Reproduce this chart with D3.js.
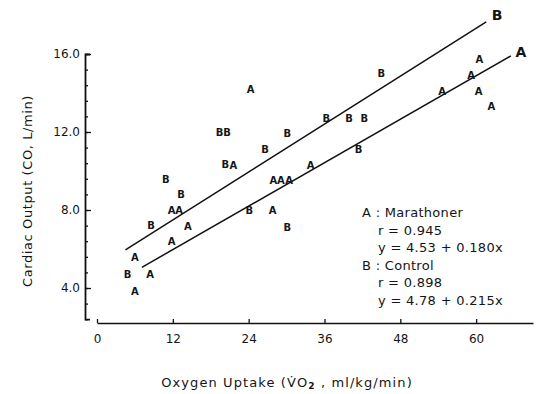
<!DOCTYPE html>
<html>
<head>
<meta charset="utf-8">
<script src="https://cdn.jsdelivr.net/npm/d3@7"></script>
<style>
  html, body { margin: 0; padding: 0; background: #fff; }
  svg { display: block; }
  text { font-family: "DejaVu Sans", sans-serif; fill: #151515; }
</style>
</head>
<body>
<svg id="chart" width="539" height="394"></svg>
<script>
// ---- Data ----
const xTicks = [0, 12, 24, 36, 48, 60];
const yTicks = [4, 8, 12, 16];

// Marathoner (A) points: [VO2, CO]
const seriesA = [
  [24.3, 14.2], [21.6, 10.3], [54.6, 14.1], [60.5, 15.7], [59.2, 14.9],
  [60.4, 14.1], [62.4, 13.3], [33.8, 10.3], [27.9, 9.5], [29.1, 9.5],
  [30.4, 9.5], [27.8, 7.95], [11.8, 7.95], [13.0, 7.95], [14.4, 7.15],
  [11.8, 6.4], [6.0, 5.55], [8.4, 4.7], [6.0, 3.8]
];
// Control (B) points: [VO2, CO]
const seriesB = [
  [19.4, 12.0], [20.6, 12.0], [30.1, 11.9], [26.6, 11.1], [20.3, 10.35],
  [36.3, 12.7], [39.9, 12.7], [42.3, 12.7], [45.0, 15.0], [41.4, 11.1],
  [24.1, 7.95], [30.1, 7.1], [10.9, 9.55], [13.3, 8.8], [8.55, 7.2],
  [4.85, 4.7]
];
// Regression lines as drawn (endpoints)
const lineA = [[7.1, 5.06], [65.5, 15.9]];
const lineB = [[4.5, 5.95], [61.6, 17.65]];
const lineLabels = [["A", 67.1, 16.1], ["B", 63.3, 18.0]];

const legendLines = [
  ["A : Marathoner", 0],
  ["r = 0.945", 1],
  ["y = 4.53 + 0.180x", 1],
  ["B : Control", 0],
  ["r = 0.898", 1],
  ["y = 4.78 + 0.215x", 1]
];

// ---- Scales ----
const svg = d3.select("#chart");
svg.append("rect").attr("width", 539).attr("height", 394).attr("fill", "#fff");

const x = d3.scaleLinear().domain([0, 69]).range([97, 533]);
const y = d3.scaleLinear().domain([2.4, 16]).range([319.2, 54]);

// ---- Y axis ----
const minorY = d3.range(3, 21).map(i => +(i * 0.8).toFixed(1));
const gyMinor = svg.append("g").attr("transform", "translate(85,0)")
  .call(d3.axisLeft(y).tickValues(minorY).tickSize(-3).tickFormat(""));
gyMinor.select(".domain").remove();
const gy = svg.append("g").attr("transform", "translate(85,0)")
  .call(d3.axisLeft(y).tickValues(yTicks).tickSize(-6).tickSizeOuter(-5)
        .tickPadding(5).tickFormat(d3.format(".1f")));
svg.selectAll("g .domain").attr("stroke", "#111").attr("stroke-width", 1.8);
svg.selectAll("g .tick line").attr("stroke", "#111").attr("stroke-width", 1.3);
gy.selectAll("text").style("font-size", "12px").style("font-family", "DejaVu Sans").attr("fill", "#151515");

// ---- X axis ----
const gx = svg.append("g").attr("transform", "translate(0,323)")
  .call(d3.axisBottom(x).tickValues(xTicks).tickSize(-4).tickSizeOuter(0)
        .tickPadding(11).tickFormat(d3.format("d")));
gx.select(".domain").attr("stroke", "#111").attr("stroke-width", 1.6);
gx.selectAll(".tick line").attr("stroke", "#111").attr("stroke-width", 1.3);
gx.selectAll("text").style("font-size", "12px").style("font-family", "DejaVu Sans").attr("fill", "#151515");

// ---- Axis titles ----
svg.append("text")
  .attr("transform", "translate(32,191) rotate(-90)")
  .attr("text-anchor", "middle")
  .style("font-size", "13px")
  .style("letter-spacing", "0.6px")
  .text("Cardiac Output (CO, L/min)");

const xt = svg.append("text")
  .attr("x", 287).attr("y", 387)
  .attr("text-anchor", "middle")
  .style("font-size", "13px")
  .style("letter-spacing", "1.1px");
xt.append("tspan").text("Oxygen Uptake (V\u0307O");
xt.append("tspan").attr("dy", 2).style("font-size", "9px").style("font-weight", "bold").text("2");
xt.append("tspan").attr("dy", -2).text(" , ml/kg/min)");

// ---- Regression lines ----
const line = d3.line().x(d => x(d[0])).y(d => y(d[1]));
[lineA, lineB].forEach(l => {
  svg.append("path").attr("d", line(l)).attr("fill", "none")
    .attr("stroke", "#111").attr("stroke-width", 1.5);
});
svg.selectAll("text.lineLabel").data(lineLabels).enter().append("text")
  .attr("class", "lineLabel")
  .attr("x", d => x(d[1])).attr("y", d => y(d[2]))
  .attr("text-anchor", "middle").attr("dominant-baseline", "central")
  .style("font-size", "14px").style("font-weight", "bold")
  .text(d => d[0]);

// ---- Points (letters) ----
function drawLetters(data, letter) {
  svg.append("g").selectAll("text").data(data).enter().append("text")
    .attr("x", d => x(d[0])).attr("y", d => y(d[1]))
    .attr("text-anchor", "middle").attr("dominant-baseline", "central")
    .style("font-size", "10px").style("font-weight", "bold")
    .text(letter);
}
drawLetters(seriesA, "A");
drawLetters(seriesB, "B");

// ---- Legend ----
svg.append("g").selectAll("text").data(legendLines).enter().append("text")
  .attr("x", d => 362 + d[1] * 16)
  .attr("y", (d, i) => 217 + i * 17.6)
  .style("font-size", "13px")
  .style("letter-spacing", "0.3px")
  .text(d => d[0]);
</script>
</body>
</html>
